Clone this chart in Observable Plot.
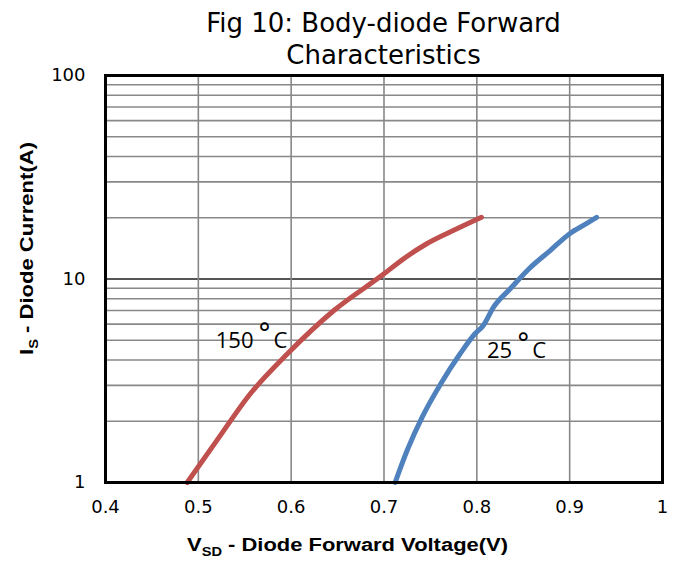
<!DOCTYPE html>
<html><head><meta charset="utf-8">
<script src="https://cdn.jsdelivr.net/npm/d3@7"></script>
<script src="https://cdn.jsdelivr.net/npm/@observablehq/plot@0.6"></script>
<style>
body{margin:0;background:#fff;}
#title{position:absolute;top:0;left:0;width:676px;text-align:center;font-family:"DejaVu Sans",Verdana,sans-serif;font-size:26px;line-height:32px;padding-top:7px;padding-left:91px;box-sizing:border-box;color:#000;}
#chart{margin-top:60px;}
</style></head><body>
<div id="title">Fig 10: Body-diode Forward<br>Characteristics</div>
<div id="chart"></div>
<script>
const v150 = [0.488, 0.520, 0.556, 0.596, 0.646, 0.700, 0.714, 0.746, 0.778, 0.805];
const i150 = [1.0, 1.61, 2.73, 4.29, 7.0, 10.6, 11.9, 14.9, 17.6, 20.1];
const v25 = [0.712, 0.725, 0.741, 0.761, 0.782, 0.798, 0.807, 0.818, 0.836, 0.856, 0.879, 0.900, 0.918, 0.929];
const i25 = [1.0, 1.44, 2.09, 3.05, 4.29, 5.38, 5.91, 7.27, 8.95, 11.2, 13.8, 16.7, 18.7, 20.1];
const xTicks = [0.4, 0.5, 0.6, 0.7, 0.8, 0.9, 1];
const yTicks = [1, 10, 100];
const yMinor = [2,3,4,5,6,7,8,9,20,30,40,50,60,70,80,90];
const labelNum = ["150", "25"];
const labelX = [0.5594, 0.8381];
const labelY = [4.97, 4.45];
const labels = labelNum.map((t, k) => ({num: t, x: labelX[k], y: labelY[k]}));

const d150 = v150.map((v, k) => ({v, i: i150[k]}));
const d25 = v25.map((v, k) => ({v, i: i25[k]}));

const lblFont = "'Open Sans', 'Liberation Sans', sans-serif";
const plot = Plot.plot({
  width: 676, height: 502,
  marginLeft: 105, marginRight: 14, marginTop: 15, marginBottom: 80,
  style: {fontFamily: "'DejaVu Sans', Verdana, sans-serif", fontSize: "18px", background: "transparent", color: "#000"},
  x: {domain: [0.4, 1], ticks: xTicks, tickFormat: d => String(d), label: null},
  y: {type: "log", domain: [1, 100], ticks: yTicks, tickFormat: d => String(d), label: null},
  marks: [
    Plot.ruleY(yMinor, {stroke: "#888", strokeWidth: 1.6}),
    Plot.ruleY([10], {stroke: "#555", strokeWidth: 2}),
    Plot.ruleX(xTicks.slice(1, -1), {stroke: "#888", strokeWidth: 1.6}),
    Plot.line(d150, {x: "v", y: "i", stroke: "#C0504D", strokeWidth: 5, curve: "monotone-x"}),
    Plot.line(d25, {x: "v", y: "i", stroke: "#4F81BD", strokeWidth: 5, curve: "monotone-x"}),
    Plot.text(labels, {x: "x", y: "y", text: "num", textAnchor: "end", fontSize: 22, fontFamily: lblFont, fill: "#000"}),
    Plot.text(labels, {x: "x", y: "y", text: () => "°", textAnchor: "middle", dx: 11, dy: -6.5, fontSize: 28, fontFamily: "'DejaVu Sans', sans-serif", fill: "#000"}),
    Plot.text(labels, {x: "x", y: "y", text: () => "C", textAnchor: "start", dx: 20, fontSize: 22, fontFamily: lblFont, fill: "#000"}),
    Plot.frame({stroke: "#000", strokeWidth: 3}),
    Plot.axisX({ticks: xTicks, tickSize: 0, tickPadding: 18, tickFormat: d => String(d)}),
    Plot.axisY({ticks: yTicks, tickSize: 0, tickPadding: 20, tickFormat: d => String(d)})
  ]
});
document.getElementById("chart").appendChild(plot);

const svg = d3.select(plot);
const xt = svg.append("text")
  .attr("x", 347.5).attr("y", 491)
  .attr("text-anchor", "middle")
  .attr("textLength", 321).attr("lengthAdjust", "spacingAndGlyphs")
  .style("font-family", "'Liberation Sans', Arial, sans-serif")
  .style("font-weight", "bold").style("font-size", "18px");
xt.append("tspan").text("V");
xt.append("tspan").attr("dy", 5).style("font-size", "12px").text("SD");
xt.append("tspan").attr("dy", -5).text(" - Diode Forward Voltage(V)");

const yt = svg.append("text")
  .attr("transform", "translate(33,188.5) rotate(-90)")
  .attr("text-anchor", "middle")
  .attr("textLength", 213).attr("lengthAdjust", "spacingAndGlyphs")
  .style("font-family", "'Liberation Sans', Arial, sans-serif")
  .style("font-weight", "bold").style("font-size", "18px");
yt.append("tspan").text("I");
yt.append("tspan").attr("dy", 5).style("font-size", "12px").text("S");
yt.append("tspan").attr("dy", -5).text(" - Diode Current(A)");
</script>
</body></html>
